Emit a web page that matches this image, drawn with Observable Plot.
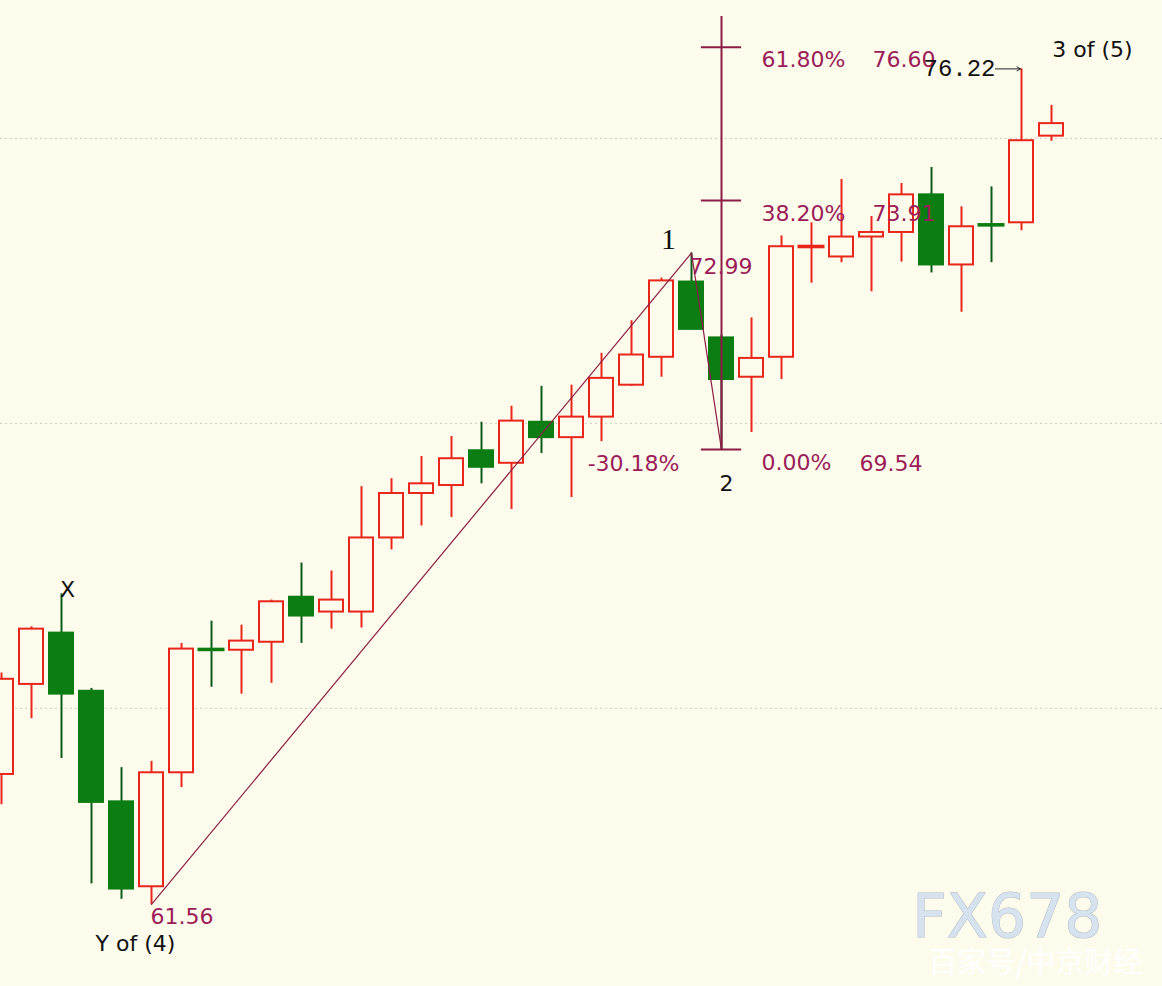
<!DOCTYPE html>
<html>
<head>
<meta charset="utf-8">
<script src="https://cdn.jsdelivr.net/npm/d3@7"></script>
<script src="https://cdn.jsdelivr.net/npm/@observablehq/plot@0.6"></script>
<style>
  html, body { margin: 0; padding: 0; background: #fdfbec; overflow: hidden; }
  #chart svg { display: block; }
</style>
</head>
<body>
<div id="chart"></div>
<script>
// ---- Data ----
const openP  = [63.84,65.42,66.32,65.30,63.36,61.87,63.87,66.03,66.02,66.16,66.95,66.69,66.69,67.99,68.77,68.91,69.52,69.30,70.02,69.75,70.11,70.67,71.16,72.48,71.50,70.81,71.16,73.09,72.92,73.27,73.35,74.01,72.78,73.48,73.52,75.04];
const highP  = [65.62,66.43,67.01,65.35,63.96,64.07,66.14,66.53,66.46,66.90,67.55,67.41,68.89,69.03,69.42,69.77,70.02,70.30,70.65,70.67,71.23,71.80,72.55,72.99,71.55,71.85,73.29,73.52,74.28,73.63,74.21,74.49,73.80,74.15,76.22,75.58];
const lowP   = [63.31,64.82,64.12,61.92,61.65,61.56,63.61,65.37,65.25,65.44,66.14,66.39,66.41,67.78,68.20,68.35,68.94,68.49,69.47,68.70,69.68,70.65,70.81,71.64,69.54,69.84,70.77,72.46,72.82,72.31,72.83,72.64,71.95,72.82,73.38,74.95];
const closeP = [65.51,66.39,65.25,63.35,61.83,63.87,66.04,66.02,66.18,66.87,66.62,66.90,67.99,68.77,68.94,69.38,69.23,70.04,69.75,70.11,70.79,71.20,72.50,71.65,70.77,71.14,73.10,73.10,73.27,73.35,74.01,72.78,73.45,73.47,74.96,75.26];

const gridValues = [65, 70, 75];

// Wave count line: Y of (4) low -> wave 1 high -> wave 2 low
const waveIdx = [5, 23, 24];
const waveVal = [61.56, 72.99, 69.54];

// Fibonacci tool anchored at the wave-2 candle
const fibIdx = 24;
const fibPct = ["0.00%", "38.20%", "61.80%"];
const fibVal = [69.54, 73.91, 76.60];
const fibTop = 77.14;

// ---- Build tables ----
const candles = openP.map((o, i) => ({i, open: o, high: highP[i], low: lowP[i], close: closeP[i], up: closeP[i] >= o}));
const wave = waveIdx.map((i, k) => ({i, v: waveVal[k]}));
const fib = fibVal.map((v, k) => ({i: fibIdx, v, pct: fibPct[k], price: v.toFixed(2)}));

const RED = "#e8261c", GREEN = "#0b7d12", GREEN_WICK = "#0b5c1c", BG = "#fdfbec";
const MAROON = "#8c1c44", LABEL = "#9c1c58";
const SANS = "DejaVu Sans, Verdana, sans-serif";

const chart = Plot.plot({
  width: 1162,
  height: 986,
  margin: 0,
  style: {background: BG, overflow: "visible"},
  x: {type: "linear", domain: [-1/30, 1161/30], axis: null},
  y: {domain: [60.12, 77.42], axis: null},
  marks: [
    Plot.ruleY(gridValues, {stroke: "#cfcdc2", strokeWidth: 1, strokeDasharray: "2,3"}),
    // wicks
    Plot.ruleX(candles, {x: "i", y1: "low", y2: "high", stroke: d => d.up ? RED : GREEN_WICK, strokeWidth: 2}),
    // bodies
    Plot.rect(candles, {
      x1: d => d.i - 0.4, x2: d => d.i + 0.4,
      y1: "open", y2: "close",
      fill: d => d.up ? BG : GREEN,
      stroke: d => d.up ? RED : GREEN,
      strokeWidth: d => Math.abs(d.close - d.open) < 0.03 ? 3 : 2
    }),
    // wave line
    Plot.line(wave, {x: "i", y: "v", stroke: MAROON, strokeWidth: 1.2}),
    // fib tool
    Plot.ruleX([fibIdx], {y1: fibVal[0], y2: fibTop, stroke: MAROON, strokeWidth: 2}),
    Plot.ruleY(fib, {y: "v", x1: d => d.i - 0.67, x2: d => d.i + 0.67, stroke: MAROON, strokeWidth: 2}),
    Plot.text(fib, {x: "i", y: "v", text: "pct", dx: 40, dy: 13, textAnchor: "start", fill: LABEL, fontSize: 22, fontFamily: SANS}),
    Plot.text(fib.filter(d => d.v !== fibVal[0]), {x: "i", y: "v", text: "price", dx: 151, dy: 13, textAnchor: "start", fill: LABEL, fontSize: 22, fontFamily: SANS}),
    Plot.text(fib.filter(d => d.v === fibVal[0]), {x: "i", y: "v", text: "price", dx: 138, dy: 14, textAnchor: "start", fill: LABEL, fontSize: 22, fontFamily: SANS}),
    Plot.text([wave[2]], {x: "i", y: "v", text: () => "-30.18%", dx: -42, dy: 14, textAnchor: "end", fill: LABEL, fontSize: 22, fontFamily: SANS}),
    // price labels at pivots
    Plot.text([wave[0]], {x: "i", y: "v", text: d => d.v.toFixed(2), dx: -1, dy: 13, textAnchor: "start", fill: LABEL, fontSize: 22, fontFamily: SANS}),
    Plot.text([wave[1]], {x: "i", y: "v", text: d => d.v.toFixed(2), dx: -2, dy: 14, textAnchor: "start", fill: LABEL, fontSize: 22, fontFamily: SANS}),
    // wave labels (black)
    Plot.text([candles[2]], {x: "i", y: "high", text: () => "X", dx: 6, dy: -4, fill: "#111", fontSize: 22, fontFamily: SANS}),
    Plot.text([wave[0]], {x: "i", y: "v", text: () => "Y of (4)", dx: -16, dy: 40, fill: "#111", fontSize: 22, fontFamily: SANS}),
    Plot.text([wave[1]], {x: "i", y: "v", text: () => "1", dx: -23, dy: -14, fill: "#111", fontSize: 30, fontFamily: "Liberation Serif, serif"}),
    Plot.text([wave[2]], {x: "i", y: "v", text: () => "2", dx: 5, dy: 34, fill: "#111", fontSize: 22, fontFamily: SANS}),
    Plot.text([candles[34]], {x: "i", y: "high", text: d => d.high.toFixed(2), dx: -26, dy: -1, textAnchor: "end", fill: "#111", fontSize: 24, fontFamily: "Liberation Mono, monospace"}),
    Plot.arrow([candles[34]], {x1: d => d.i - 0.87, x2: "i", y1: "high", y2: "high", stroke: "#222", strokeWidth: 1, headLength: 6, insetEnd: 1}),
    Plot.text([candles[34]], {x: "i", y: "high", text: () => "3 of (5)", dx: 71, dy: -19, fill: "#111", fontSize: 22, fontFamily: SANS}),
    // watermark
    Plot.text(["FX678"], {frameAnchor: "bottom-right", dx: -60, dy: -50, fill: "#d6e3ef", stroke: "#aeb9c6", strokeWidth: 1, fontSize: 60, fontFamily: "DejaVu Sans, sans-serif", letterSpacing: 4}),
    Plot.text(["百家号/中京财经"], {frameAnchor: "bottom-right", dx: -20, dy: -14, fill: "#ffffff", fontSize: 29, fontFamily: "Noto Sans CJK SC, sans-serif"})
  ]
});
document.getElementById("chart").append(chart);
</script>
</body>
</html>
